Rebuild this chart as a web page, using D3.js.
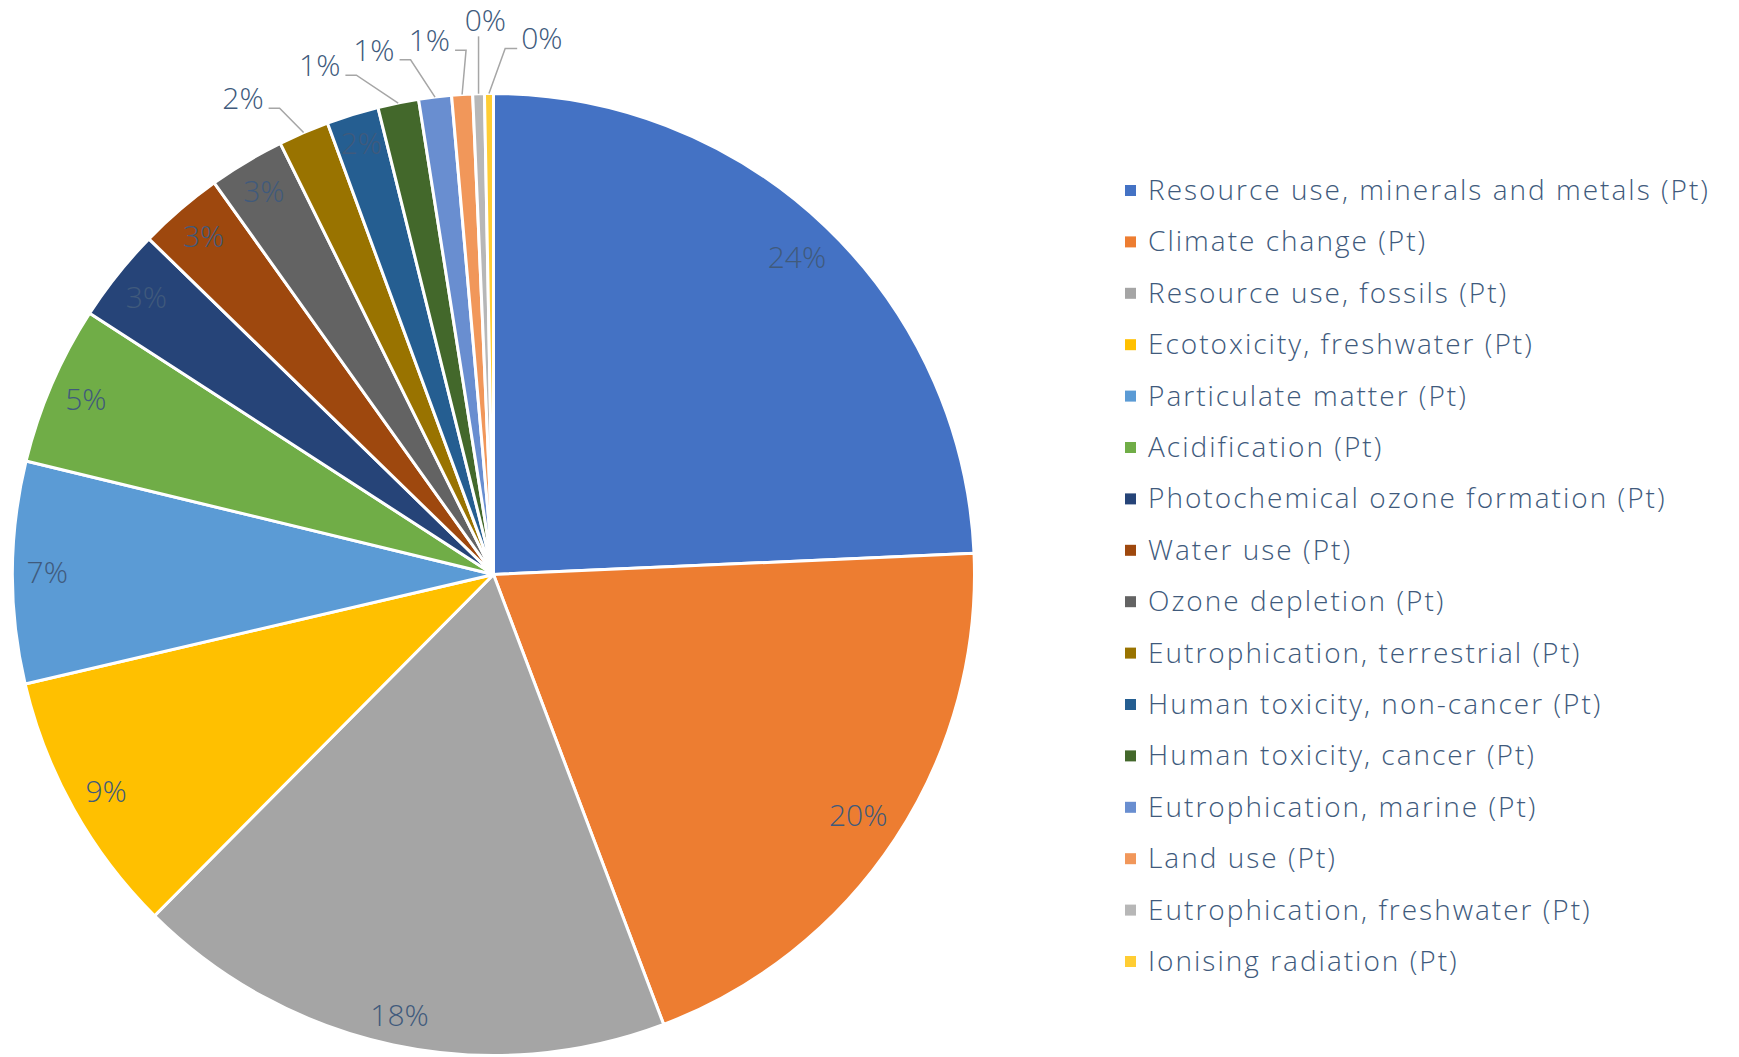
<!DOCTYPE html>
<html>
<head>
<meta charset="utf-8">
<script src="https://cdn.jsdelivr.net/npm/d3@7"></script>
<style>
  body { margin: 0; background: #fff; }
  svg { display: block; font-family: "Open Sans", "Noto Sans", sans-serif; font-weight: 300; }
</style>
</head>
<body>
<svg id="chart" width="1739" height="1057"></svg>
<script>
/* Impact categories, in drawing order (clockwise from 12 o'clock) */
const categories = [
    'Resource use, minerals and metals (Pt)',
    'Climate change (Pt)',
    'Resource use, fossils (Pt)',
    'Ecotoxicity, freshwater (Pt)',
    'Particulate matter (Pt)',
    'Acidification (Pt)',
    'Photochemical ozone formation (Pt)',
    'Water use (Pt)',
    'Ozone depletion (Pt)',
    'Eutrophication, terrestrial (Pt)',
    'Human toxicity, non-cancer (Pt)',
    'Human toxicity, cancer (Pt)',
    'Eutrophication, marine (Pt)',
    'Land use (Pt)',
    'Eutrophication, freshwater (Pt)',
    'Ionising radiation (Pt)'
];

// share of single score
const values = [24.3, 19.95, 18.2, 8.9, 7.45, 5.35, 3.15, 2.85, 2.55, 1.70, 1.75, 1.37, 1.10, 0.70, 0.39, 0.30];

const colors = [
    '#4472C4', '#ED7D31', '#A5A5A5', '#FFC000', '#5B9BD5', '#70AD47',
    '#264478', '#9E480E', '#636363', '#997300', '#255E91', '#43682B',
    '#698ED0', '#F1975A', '#B7B7B7', '#FFCD33'
];

const textColor = '#405A7C';
const lineColor = '#A6A6A6';

const svg = d3.select('#chart');
const cx = 493.5, cy = 574.5, R = 481;
const labelSize = 30, legendSize = 28;

const total = d3.sum(values);
const fmt = d3.format('.0%');

const pie = d3.pie().sort(null).value(d => d)(values);
const arc = d3.arc().innerRadius(0).outerRadius(R);

const g = svg.append('g').attr('transform', `translate(${cx},${cy})`);

g.selectAll('path.slice')
    .data(pie)
    .join('path')
    .attr('class', 'slice')
    .attr('d', arc)
    .attr('fill', (d, i) => colors[i])
    .attr('stroke', '#fff')
    .attr('stroke-width', 3)
    .attr('stroke-linejoin', 'round');

/* Data labels */
const mid = d => (d.startAngle + d.endAngle) / 2;
const inside = pie.filter(d => d.value / total >= 0.0172);
const outside = pie.filter(d => d.value / total < 0.0172);

const capH = labelSize * 0.72;

// inside end labels
inside.forEach(d => {
    const t = g.append('text')
        .attr('font-size', labelSize)
        .attr('fill', textColor)
        .attr('text-anchor', 'middle')
        .text(fmt(d.value / total));
    const w = t.node().getComputedTextLength();
    const a = mid(d);
    const s = Math.sin(a), c = -Math.cos(a);
    const ext = Math.abs(s) * w / 2 + Math.abs(c) * capH / 2;
    const r = R - 14 - ext;
    t.attr('x', s * r).attr('y', c * r + capH / 2);
});

// outside labels with leader lines, spread so they do not collide
const sep = 6 * Math.PI / 180;
const mids = outside.map(mid);
const fwd = [], bwd = [];
mids.forEach((m, i) => { fwd[i] = i === 0 ? m : Math.max(m, fwd[i - 1] + sep); });
for (let i = mids.length - 1; i >= 0; i--) {
    bwd[i] = i === mids.length - 1 ? mids[i] : Math.min(mids[i], bwd[i + 1] - sep);
}
const rOut = 538;

outside.forEach((d, i) => {
    const la = (fwd[i] + bwd[i]) / 2 - 0.015;
    const a = mid(d);
    const ax = Math.sin(a) * R, ay = -Math.cos(a) * R;
    const t = g.append('text')
        .attr('font-size', labelSize)
        .attr('fill', textColor)
        .attr('text-anchor', 'middle')
        .text(fmt(d.value / total));
    const w = t.node().getComputedTextLength();
    let lx = Math.sin(la) * rOut, ly = -Math.cos(la) * rOut;
    const straight = Math.abs(lx - ax) < w / 2;
    if (straight) {
        // label sits right above its slice: lift it clear of its neighbours
        lx = Math.sin(la) * (rOut + 16);
        ly = -Math.cos(la) * (rOut + 16);
    }
    t.attr('x', lx).attr('y', ly + capH / 2);
    let pts;
    if (straight) {
        pts = [[ax, ly + capH / 2 + 5], [ax, ay]];
    } else if (lx < ax) {
        const sx = lx + w / 2 + 5, sy = ly + capH / 2 - 1;
        pts = [[sx, sy], [sx + 11, sy], [ax, ay]];
    } else {
        const sx = lx - w / 2 - 4, sy = ly + capH / 2 - 1;
        pts = [[sx, sy], [sx - 12, sy], [ax, ay]];
    }
    g.append('path')
        .attr('d', d3.line()(pts))
        .attr('fill', 'none')
        .attr('stroke', lineColor)
        .attr('stroke-width', 1.5);
});

/* Legend */
const legendY = d3.scalePoint()
    .domain(categories)
    .range([190, 190 + 51.4 * (categories.length - 1)]);

const legend = svg.append('g');
const rows = legend.selectAll('g.row')
    .data(categories)
    .join('g')
    .attr('class', 'row')
    .attr('transform', d => `translate(0,${legendY(d)})`);

rows.append('rect')
    .attr('x', 1125)
    .attr('y', -5)
    .attr('width', 11)
    .attr('height', 11)
    .attr('fill', (d, i) => colors[i]);

const legendText = rows.append('text')
    .attr('x', 1148)
    .attr('y', legendSize * 0.36)
    .attr('font-size', legendSize)
    .attr('fill', textColor)
    .text(d => d);

// widen the tracking so the longest entry spans as in the original
const longest = legendText.nodes()[0];
const spacing = (560 - longest.getComputedTextLength()) / (categories[0].length - 1);
legendText.attr('letter-spacing', spacing);
</script>
</body>
</html>
